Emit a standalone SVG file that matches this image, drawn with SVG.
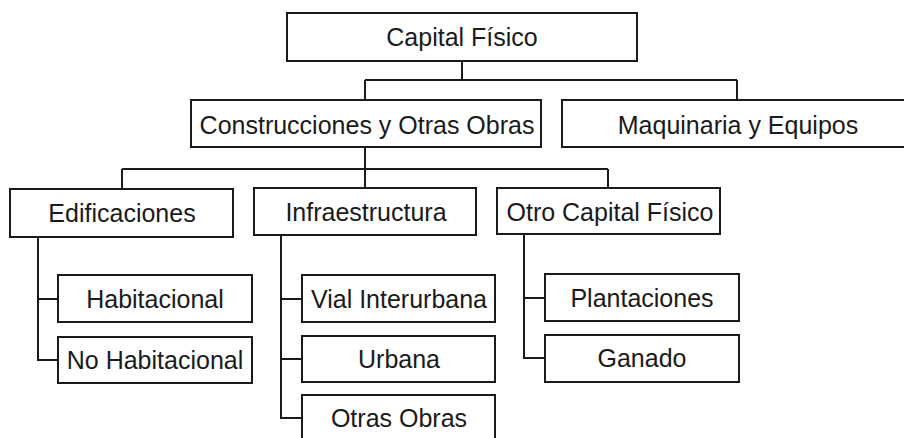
<svg xmlns="http://www.w3.org/2000/svg" width="904" height="438" viewBox="0 0 904 438">
<style>
rect{fill:#fff;stroke:#1a1a1a;stroke-width:2}
text{font-family:"Liberation Sans",Arial,sans-serif;font-size:25px;fill:#1a1a1a;text-anchor:middle}
#connectors path{fill:none;stroke:#1a1a1a;stroke-width:2}
</style>
<rect x="0" y="0" width="904" height="438" style="stroke:none"/>
<g id="connectors">
<path d="M462 61V80M365 80H737M365 80V100M737 80V100"/>
<path d="M365 147V188M122 169H608M122 169V189M608 169V188"/>
<path d="M38 237V360H58M38 299H58"/>
<path d="M281 235V418H302M281 299H302M281 359H302"/>
<path d="M524 234V358H545M524 298H545"/>
</g>
<g id="capital-fisico"><rect x="287" y="13" width="350" height="48"/><text x="462" y="46">Capital Físico</text></g>
<g id="construcciones"><rect x="191" y="100" width="350" height="47"/><text x="367" y="134">Construcciones y Otras Obras</text></g>
<g id="maquinaria"><rect x="562" y="100" width="352" height="47"/><text x="738" y="134">Maquinaria y Equipos</text></g>
<g id="edificaciones"><rect x="10" y="189" width="223" height="48"/><text x="122" y="222">Edificaciones</text></g>
<g id="infraestructura"><rect x="254" y="188" width="222" height="47"/><text x="366" y="221">Infraestructura</text></g>
<g id="otro-capital"><rect x="497" y="188" width="223" height="46"/><text x="610" y="221">Otro Capital Físico</text></g>
<g id="habitacional"><rect x="58" y="275" width="194" height="47"/><text x="155" y="308">Habitacional</text></g>
<g id="no-habitacional"><rect x="58" y="337" width="194" height="46"/><text x="155" y="369">No Habitacional</text></g>
<g id="vial-interurbana"><rect x="302" y="275" width="193" height="47"/><text x="399" y="308">Vial Interurbana</text></g>
<g id="urbana"><rect x="302" y="336" width="193" height="46"/><text x="399" y="368">Urbana</text></g>
<g id="otras-obras"><rect x="302" y="395" width="193" height="50"/><text x="399" y="427">Otras Obras</text></g>
<g id="plantaciones"><rect x="545" y="274" width="194" height="47"/><text x="642" y="307">Plantaciones</text></g>
<g id="ganado"><rect x="545" y="335" width="194" height="47"/><text x="642" y="367">Ganado</text></g>
</svg>
